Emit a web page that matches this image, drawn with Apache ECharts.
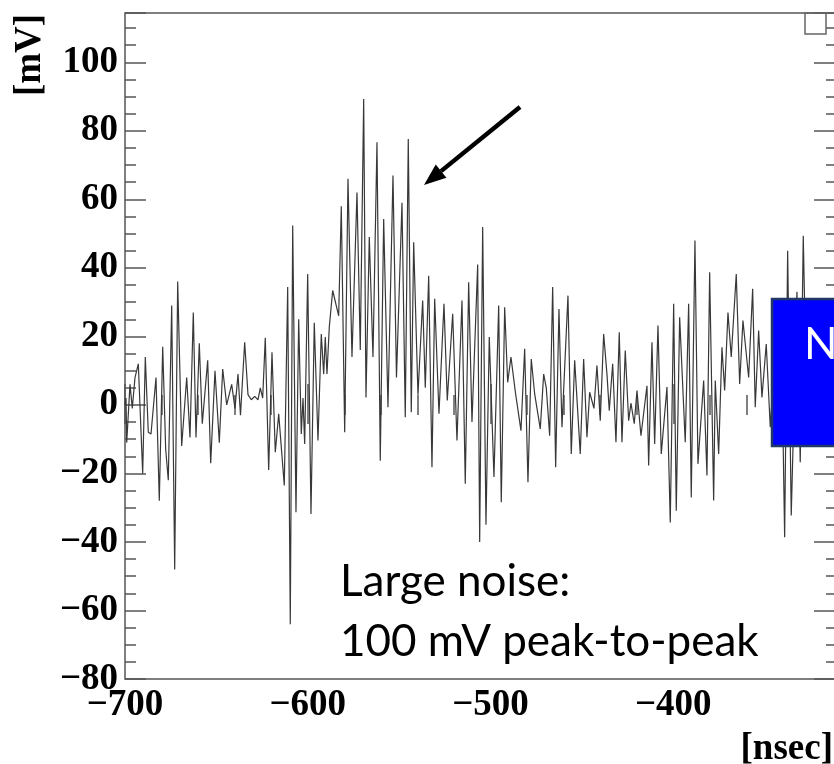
<!DOCTYPE html>
<html>
<head>
<meta charset="utf-8">
<script src="https://cdn.jsdelivr.net/npm/echarts@6/dist/echarts.min.js"></script>
<style>
  html, body { margin: 0; padding: 0; background: #ffffff; }
  #chart { width: 834px; height: 764px; }
</style>
</head>
<body>
<div id="chart"></div>
<script>
// Waveform samples: time in nsec, amplitude in mV
const timeNs = [
  -700.00, -699.45, -699.07, -697.26, -696.01, -694.53, -692.72, -690.32, -688.89, -687.25,
  -685.77, -683.04, -681.23, -679.37, -677.73, -676.31, -674.45, -672.81, -671.17, -668.98,
  -666.24, -664.44, -662.63, -661.15, -659.35, -657.71, -654.75, -653.11, -650.76, -648.40,
  -646.54, -644.36, -641.62, -639.81, -638.17, -636.81, -634.51, -632.70, -630.90, -629.04,
  -627.23, -625.97, -624.66, -623.24, -621.38, -619.57, -617.76, -615.90, -612.84, -610.98,
  -609.56, -608.24, -606.44, -604.96, -603.54, -602.61, -601.68, -600.04, -598.23, -596.43,
  -594.40, -592.60, -591.28, -590.41, -589.48, -588.22, -586.36, -583.08, -581.65, -579.79,
  -577.99, -575.80, -573.06, -571.26, -569.40, -568.14, -566.33, -564.31, -562.12, -560.32,
  -558.46, -556.10, -553.37, -551.45, -548.44, -546.64, -545.00, -543.35, -542.04, -539.69,
  -537.12, -535.69, -533.83, -532.03, -530.55, -528.20, -525.46, -523.66, -520.70, -518.35,
  -515.61, -513.81, -511.95, -510.14, -507.02, -505.93, -504.29, -502.48, -500.68, -498.11,
  -495.53, -494.11, -492.25, -490.61, -488.80, -486.34, -483.33, -481.31, -479.50, -477.70,
  -475.84, -472.77, -470.91, -469.49, -467.63, -465.99, -464.35, -462.54, -460.90, -457.62,
  -455.81, -453.95, -450.89, -449.03, -447.22, -445.74, -443.40, -441.75, -439.94, -438.08,
  -436.28, -435.02, -433.16, -431.35, -429.55, -428.07, -426.27, -424.41, -423.15, -421.34,
  -419.86, -417.68, -414.39, -413.46, -411.66, -410.18, -408.37, -406.57, -403.45, -401.64,
  -399.78, -398.36, -396.50, -393.44, -391.58, -390.15, -388.13, -386.49, -383.37, -381.56,
  -380.09, -377.90, -377.02, -375.16, -373.36, -371.88, -370.07, -368.27, -365.53, -363.67,
  -361.87, -358.75, -356.56, -355.14, -353.28, -351.47, -349.12, -346.93, -344.36, -342.17,
  -340.80, -339.05, -337.41, -335.44, -332.32, -330.52, -328.87, -326.85, -324.66, -322.47,
  -320.28, -318.10, -315.91, -313.72, -311.53
];
const amplitudeMv = [
  0, 2, -11, 6, -1, 8, 12, -20, 14, -8,
  -8.5, 8, -28, 17, -13, -22, 29, -48, 36, -12,
  8, -9.5, 27, -9.5, 18, -5.5, 13, -17, 10, -11,
  10.5, 0, 6, -1, 9, -3, 18.3, 3, 1.5, 2.5,
  1.5, 5, 2, 19.6, -19, 15.4, -13.8, -2.6, -23.5, 34.4,
  -64, 52.4, -31.3, 25, -8.5, 2, -11.4, 38.2, -31.8, 24,
  -10.4, 20.7, 9, 19.8, 9, 22.7, 33.4, 26, 58, -8,
  66, 14, 62, 16, 89.3, 2.2, 49, 14, 76.7, -16.3,
  54.3, -0.7, 67, 8, 59, -3.6, 77.6, -2.1, 47.5, 3,
  30.5, 5, 37.7, -18.2, 31, -2.6, 29.5, 1.3, 26.6, -10.4,
  30.5, -23, 35.8, -5, 41, -40, 51.9, -35, 19.8, -21,
  29, -28.4, 28.5, 6.6, 14, 3.5, -7.5, 16.4, -22.6, 13.4,
  3.2, -7, 9, 5, -9, 34.4, -18.2, 28, -6.5, 31.9,
  -14.3, 13, -14.3, 13.4, -9.4, 3.7, -1, 11.5, -4.6, 20.7,
  9, -1.7, 12, -10.9, 21.2, -10.9, 15.9, -4.6, 0.5, -5.5,
  4.2, -9, 5.6, -17.7, 18.3, -11.4, 23.2, -14.3, 5.2, -34.3,
  29.5, -30.9, 25.6, -10.9, 29.5, -27, 48, -17.2, 7.1, -20.6,
  38.7, -27.9, 7.1, -14.3, 16.8, 4.2, 27, 14, 38.2, 6.1,
  24.6, 8, 33.9, -0.7, 21.7, 2.2, 17.8, -6.5, 15, -8,
  20, -38.6, 45, -32.3, 33, -16.7, 49.4, -5, 20, -8,
  15, -5, 18, 0, 10
];

// Axis ranges and tick steps
const xRange = [-700, -311.5];
const yRange = [-80, 114.4];
const xStep = 100;
const yStep = 20;

// Annotation texts
const noteLines = ['Large noise:', '100 mV peak-to-peak'];
const boxText = 'N';
const yTitle = '[mV]';
const xTitle = '[nsec]';

const points = timeNs.map((t, i) => [t, amplitudeMv[i]]);

const AXIS_COLOR = '#555555';
const LABEL_FONT = { fontFamily: 'Liberation Serif', fontWeight: 'bold', fontSize: 37, color: '#000000' };
const minus = v => String(v).replace('-', '\u2212');

function xAxisDef(pos, labels, majorLen, minorLen) {
  return {
    type: 'value', position: pos, min: xRange[0], max: xRange[1], interval: xStep,
    axisLine: { show: false },
    splitLine: { show: false },
    axisTick: { show: true, inside: true, length: majorLen, lineStyle: { color: AXIS_COLOR, width: 1.5 } },
    minorTick: { show: true, splitNumber: 5, length: minorLen, lineStyle: { color: AXIS_COLOR, width: 1.5 } },
    axisLabel: Object.assign({ show: labels, margin: 8, showMinLabel: true, showMaxLabel: false, formatter: minus }, LABEL_FONT)
  };
}
function yAxisDef(pos, labels, majorLen, minorLen) {
  return {
    type: 'value', position: pos, min: yRange[0], max: yRange[1], interval: yStep,
    axisLine: { show: false },
    splitLine: { show: false },
    axisTick: { show: true, inside: true, length: majorLen, lineStyle: { color: AXIS_COLOR, width: 1.5 } },
    minorTick: { show: true, splitNumber: 4, length: minorLen, lineStyle: { color: AXIS_COLOR, width: 1.5 } },
    axisLabel: Object.assign({ show: labels, margin: 7, showMinLabel: true, showMaxLabel: false, formatter: minus }, LABEL_FONT)
  };
}

// Arrow pointing at the burst maximum
const arrowTail = [520, 107];
const arrowTip = [424, 185];
const dx = arrowTip[0] - arrowTail[0], dy = arrowTip[1] - arrowTail[1];
const len = Math.hypot(dx, dy);
const ux = dx / len, uy = dy / len;
const headLen = 22, headHalf = 8.5;
const base = [arrowTip[0] - headLen * ux, arrowTip[1] - headLen * uy];

const chart = echarts.init(document.getElementById('chart'), null, { renderer: 'canvas' });
chart.setOption({
  animation: false,
  backgroundColor: '#ffffff',
  grid: {
    left: 125, top: 13, width: 710, height: 666,
    containLabel: false, outerBoundsMode: 'none',
    show: true, borderColor: AXIS_COLOR, borderWidth: 1.5, backgroundColor: 'transparent'
  },
  xAxis: [xAxisDef('bottom', true, 21, 10), xAxisDef('top', false, 19, 10)],
  yAxis: [yAxisDef('left', true, 21, 11), yAxisDef('right', false, 21, 9)],
  series: [{
    type: 'line',
    data: points,
    showSymbol: false,
    symbol: 'none',
    clip: true,
    lineStyle: { color: '#383838', width: 1.2 },
    z: 3
  }],
  graphic: [
    { type: 'rect', shape: { x: 805, y: 13, width: 21, height: 21 }, style: { fill: 'none', stroke: '#666666', lineWidth: 1.5 }, z: 10 },
    { type: 'line', shape: { x1: arrowTail[0], y1: arrowTail[1], x2: base[0], y2: base[1] }, style: { stroke: '#000000', lineWidth: 4.5 }, z: 10 },
    { type: 'polygon', shape: { points: [
        arrowTip,
        [base[0] + headHalf * -uy, base[1] + headHalf * ux],
        [base[0] - headHalf * -uy, base[1] - headHalf * ux]
      ] }, style: { fill: '#000000' }, z: 10 },
    { type: 'text', x: 340, y: 582, style: { text: noteLines[0], fontFamily: 'Lato', fontSize: 44, fill: '#000000', align: 'left', verticalAlign: 'middle' }, z: 10 },
    { type: 'text', x: 340, y: 642, style: { text: noteLines[1], fontFamily: 'Lato', fontSize: 44, fill: '#000000', align: 'left', verticalAlign: 'middle' }, z: 10 },
    { type: 'rect', shape: { x: 772, y: 299, width: 80, height: 147 }, style: { fill: '#0000ff', stroke: '#1f3864', lineWidth: 2.5 }, z: 11 },
    { type: 'text', x: 804, y: 345, style: { text: boxText, fontFamily: 'Lato', fontSize: 44, fill: '#ffffff', align: 'left', verticalAlign: 'middle' }, z: 12 },
    { type: 'text', x: 30, y: 55, rotation: Math.PI / 2, style: { text: yTitle, fontFamily: 'Liberation Serif', fontWeight: 'bold', fontSize: 37, fill: '#000000', align: 'center', verticalAlign: 'middle' }, z: 10 },
    { type: 'text', x: 833, y: 749, style: { text: xTitle, fontFamily: 'Liberation Serif', fontWeight: 'bold', fontSize: 37, fill: '#000000', align: 'right', verticalAlign: 'middle' }, z: 10 }
  ]
});
</script>
</body>
</html>
